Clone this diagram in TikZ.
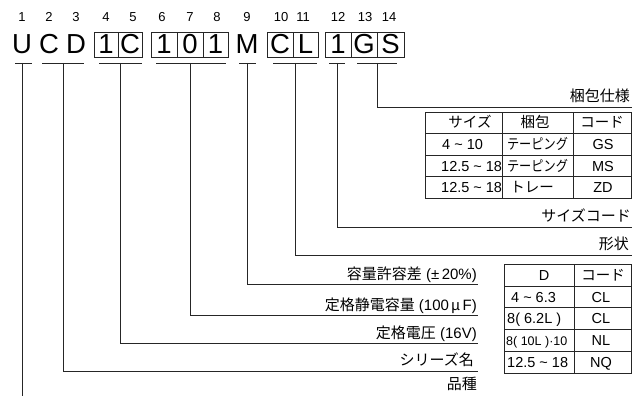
\documentclass[tikz,border=0pt]{standalone}
\usepackage{fontspec}
\setmainfont{Liberation Sans}
\newfontfamily\jp{Noto Sans CJK JP}
\begin{document}
\begin{tikzpicture}[x=1pt,y=-1pt,
  ln/.style={line width=0.85pt, draw=black!85},
  big/.style={font=\fontsize{27.5}{27.5}\selectfont, inner sep=0},
  num/.style={font=\fontsize{13}{13}\selectfont, inner sep=0, anchor=base},
  cellbox/.style={ln, big, minimum height=25pt},
  lbl/.style={font=\fontsize{15}{15}\selectfont, inner sep=0, anchor=base east},
  tcell/.style={font=\fontsize{14.5}{14.5}\selectfont, inner sep=0, anchor=base},
  tleft/.style={tcell, anchor=base west},
]
\useasboundingbox (0,0) rectangle (632,396);

% ---- position numbers
\foreach \x/\n [count=\i] in {22/1,49/2,76/3,106/4,133/5,162/6,190/7,217/8,247/9,281/10,303/11,338/12,365/13,389/14}
  \node[num] (n\i) at (\x,22) {\n};

% ---- code letters
\node[big] (L1) at (22,44.5) {U};
\node[big] (L2) at (49,44.5) {C};
\node[big] (L3) at (76,44.5) {D};
\node[cellbox, minimum width=24pt] (L4) at (106,44.5) {1};
\node[cellbox, minimum width=24pt] (L5) at (130,44.5) {C};
\node[cellbox, minimum width=26pt] (L6) at (164,44.5) {1};
\node[cellbox, minimum width=26pt] (L7) at (190,44.5) {0};
\node[cellbox, minimum width=25pt] (L8) at (215.5,44.5) {1};
\node[big] (L9) at (247,44.5) {M};
\node[cellbox, minimum width=26pt] (L10) at (280,44.5) {C};
\node[cellbox, minimum width=25pt] (L11) at (305.5,44.5) {L};
\node[cellbox, minimum width=26pt] (L12) at (338,44.5) {1};
\node[cellbox, minimum width=26pt] (L13) at (364,44.5) {G};
\node[cellbox, minimum width=27pt] (L14) at (390.5,44.5) {S};

% ---- underlines
\draw[ln] (15,63) -- (32,63);
\draw[ln] (42,63) -- (84,63);
\draw[ln] (99,63) -- (142,63);
\draw[ln] (156,63) -- (226,63);
\draw[ln] (239,63) -- (256,63);
\draw[ln] (273,63) -- (317,63);
\draw[ln] (329,63) -- (345,63);
\draw[ln] (357,63) -- (397,63);

% ---- stems and label lines
\coordinate (sU) at (22,63);   \coordinate (eU) at (22,396);
\coordinate (sCD) at (63,63);  \coordinate (eCD) at (478,371);
\coordinate (sV) at (120,63);  \coordinate (eV) at (478,343);
\coordinate (sCap) at (190,63);\coordinate (eCap) at (478,315);
\coordinate (sM) at (247,63);  \coordinate (eM) at (478,284);
\coordinate (sCL) at (295,63); \coordinate (eCL) at (632,255);
\coordinate (sSz) at (337,63); \coordinate (eSz) at (632,227);
\coordinate (sGS) at (377,63); \coordinate (eGS) at (632,107);
\draw[ln] (sU) -- (eU);
\draw[ln] (sCD) |- (eCD);
\draw[ln] (sV) |- (eV);
\draw[ln] (sCap) |- (eCap);
\draw[ln] (sM) |- (eM);
\draw[ln] (sCL) |- (eCL);
\draw[ln] (sSz) |- (eSz);
\draw[ln] (sGS) |- (eGS);

% ---- labels
\node[lbl] (tGS) at (630,102) {\jp 梱包仕様};
\node[lbl] (tSz) at (631,221) {\jp サイズコード};
\node[lbl] (tCL) at (629,249) {\jp 形状};
\node[lbl] (tM) at (477,279) {{\jp 容量許容差} (±\,20\%)};
\node[lbl] (tCap) at (477,310) {{\jp 定格静電容量} (100\,µ\,F)};
\node[lbl] (tV) at (477,338) {{\jp 定格電圧} (16V)};
\node[lbl] (tS) at (474,365) {\jp シリーズ名};
\node[lbl] (tH) at (477,389) {\jp 品種};

% ---- packing table
\draw[ln] (425,112) rectangle (631,198);
\foreach \yy in {133.5,155,176.5} \draw[ln] (425,\yy) -- (631,\yy);
\foreach \xx in {502,573} \draw[ln] (\xx,112) -- (\xx,198);
\node[tcell] (p11) at (470,128) {\jp サイズ};
\node[tcell] (p12) at (535,128) {\jp 梱包};
\node[tcell] (p13) at (602,128) {\jp コード};
\node[tleft] (p21) at (442,149.5) {4 \textasciitilde\ 10};
\node[tcell] (p22) at (537.5,149.5) {\scalebox{0.84}[1]{\jp テーピング}};
\node[tcell] (p23) at (603,149.5) {GS};
\node[tleft] (p31) at (441,171) {12.5 \textasciitilde\ 18};
\node[tcell] (p32) at (537.5,171) {\scalebox{0.84}[1]{\jp テーピング}};
\node[tcell] (p33) at (603,171) {MS};
\node[tleft] (p41) at (441,192.5) {12.5 \textasciitilde\ 18};
\node[tcell] (p42) at (532,192.5) {\jp トレー};
\node[tcell] (p43) at (603,192.5) {ZD};

% ---- shape table
\draw[ln] (504,264.5) rectangle (631,373);
\foreach \yy in {286,307.5,329.5,351.5} \draw[ln] (504,\yy) -- (631,\yy);
\draw[ln] (574,264.5) -- (574,373);
\node[tcell] (d11) at (544,280.5) {D};
\node[tcell] (d12) at (603,280.5) {\jp コード};
\node[tleft] (d21) at (511,302) {4\hspace{4pt}\textasciitilde\hspace{4pt}6.3};
\node[tcell] (d22) at (601,302) {CL};
\node[tleft] (d31) at (507,323.5) {8( 6.2L )};
\node[tcell] (d32) at (601,323.5) {CL};
\node[tleft, font=\fontsize{12.5}{12.5}\selectfont] (d41) at (506,345) {8( 10L )·10};
\node[tcell] (d42) at (601,345) {NL};
\node[tleft] (d51) at (507,367) {12.5 \textasciitilde\ 18};
\node[tcell] (d52) at (601,367) {NQ};
\end{tikzpicture}
\end{document}
